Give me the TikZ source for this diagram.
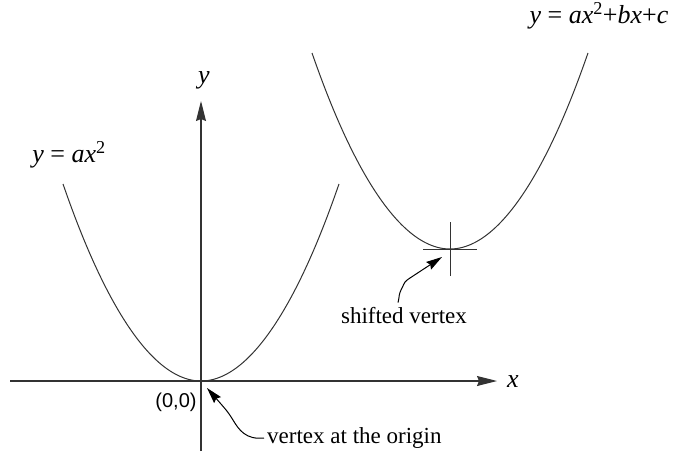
\documentclass[tikz,border=0pt]{standalone}
\usepackage{fontspec}
\setmainfont{Liberation Serif}
\newfontfamily\axsans{Liberation Sans}
\usetikzlibrary{arrows.meta,positioning,calc}

\begin{document}
\begin{tikzpicture}[
  x=1pt,y=-1pt,
  >={Stealth[length=20pt,width=10pt,inset=2pt]},
  axis/.style ={line width=1.1pt,draw=black!80},
  curve/.style={line width=1pt,draw=black!80},
  cross/.style={line width=1pt,draw=black!80},
  eqn/.style  ={font=\fontsize{26}{30}\selectfont,inner sep=0pt},
  lbl/.style  ={font=\fontsize{23}{26}\selectfont,inner sep=3pt},
  ptr/.style  ={->,line width=1pt,
                >={Stealth[length=16pt,width=9pt,inset=2pt]}},
]
\useasboundingbox (0,0) rectangle (681,451);

%% ── Axes ─────────────────────────────────────────────────────────────────────
\coordinate (o)    at (201,381);
\coordinate (xlo)  at (10,381);
\coordinate (xhi)  at (497,381);
\coordinate (ylo)  at (201,451);
\coordinate (yhi)  at (201,101);
\draw[axis,->] (xlo) -- (xhi);
\draw[axis,->] (ylo) -- (yhi);
\node[eqn] (xlab) at (513,382) {\itshape x};
\node[eqn] (ylab) at (204,80)  {\itshape y};
\node[font=\axsans\fontsize{20}{24}\selectfont,inner sep=0pt]
  (orig) at (176,402) {(0,0)};

%% ── Parabolas ────────────────────────────────────────────────────────────────
\draw[curve] (63,184) parabola bend (o) (339,184);
\coordinate (vtx) at (450,249);
\draw[curve] (312,53) parabola bend (vtx) (588,53);
\draw[cross] ([xshift=-27pt]vtx) -- ([xshift=27pt]vtx);
\draw[cross] ([yshift=-27pt]vtx) -- ([yshift=27pt]vtx);

\node[eqn] (eqa) at (69,155)  {\itshape y \upshape= \itshape ax\upshape\textsuperscript{2}};
\node[eqn] (eqb) at (599,16)
  {\itshape y \upshape= \itshape ax\upshape\textsuperscript{2}+\itshape bx\upshape+\itshape c};

%% ── Pointers ─────────────────────────────────────────────────────────────────
\node[lbl,anchor=west] (orgtxt) at (264,438) {vertex at the origin};
\node[lbl] (shtxt) at (404,316) {shifted vertex};

\draw[ptr] (orgtxt.west) .. controls +(-18,2) and +(6,10) .. (233,420)
  .. controls +(-5,-8) .. ([shift={(6,7)}]o);
\draw[ptr] (shtxt.north) ++(-6,-2) coordinate (sht)
  .. controls +(2,-8) and +(-4,8) .. (402,288)
  .. controls +(3,-6) and +(-6,4) .. (410,278)
  -- ([shift={(-8,8)}]vtx);

\end{tikzpicture}
\end{document}
